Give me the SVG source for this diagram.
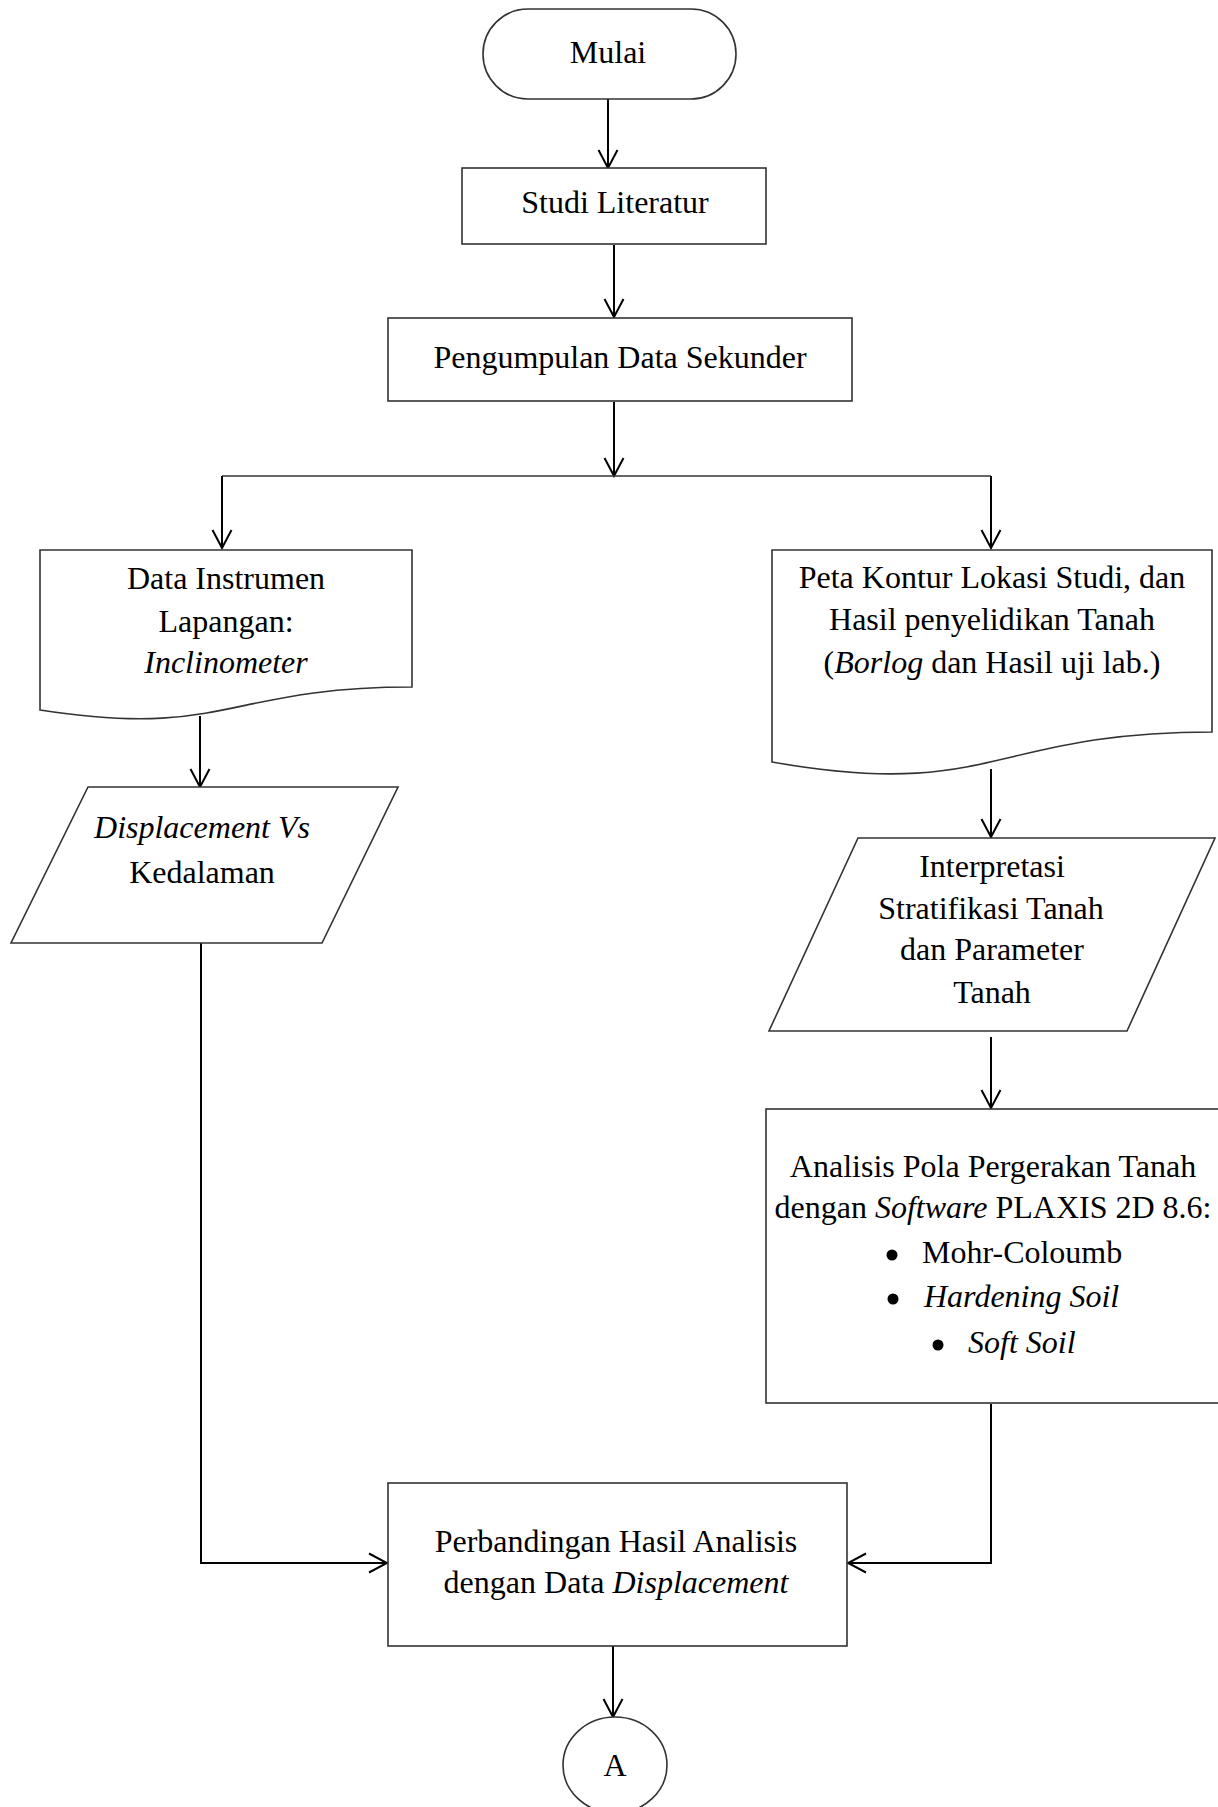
<svg xmlns="http://www.w3.org/2000/svg" width="1218" height="1807" viewBox="0 0 1218 1807">
<style>
.shape{fill:#fff;stroke:#333;stroke-width:1.6}
.conn{fill:none;stroke:#000;stroke-width:2}
.bullet{fill:#000}
text{font-family:"Liberation Serif","Times New Roman",serif;font-size:32px;fill:#000;text-anchor:middle}
.it{font-style:italic}
.l{text-anchor:start}
</style>
<defs>
<marker id="arr" viewBox="-22 -12 24 24" refX="0" refY="0" markerWidth="24" markerHeight="24" markerUnits="userSpaceOnUse" orient="auto">
<path d="M-18,-9.5 L0,0 L-18,9.5" fill="none" stroke="#000" stroke-width="2"/>
</marker>
</defs>
<rect width="1218" height="1807" fill="#fff"/>
<g id="connectors">
<path class="conn" d="M608,99 V168" marker-end="url(#arr)"/>
<path class="conn" d="M614,245 V317" marker-end="url(#arr)"/>
<path class="conn" d="M614,402 V476" marker-end="url(#arr)"/>
<path class="conn" d="M222,476 H991" style="stroke-width:1.6;stroke:#333"/>
<path class="conn" d="M222,476 V548" marker-end="url(#arr)"/>
<path class="conn" d="M991,476 V548" marker-end="url(#arr)"/>
<path class="conn" d="M200,716 V787" marker-end="url(#arr)"/>
<path class="conn" d="M991,769 V837" marker-end="url(#arr)"/>
<path class="conn" d="M991,1037 V1108" marker-end="url(#arr)"/>
<path class="conn" d="M201,943 V1563 H387" marker-end="url(#arr)"/>
<path class="conn" d="M991,1404 V1563 H848" marker-end="url(#arr)"/>
<path class="conn" d="M613,1646 V1717" marker-end="url(#arr)"/>
</g>
<g id="mulai">
<rect class="shape" x="483" y="9" width="253" height="90" rx="45" ry="45"/>
<text x="608" y="63">Mulai</text>
</g>
<g id="studi-literatur">
<rect class="shape" x="462" y="168" width="304" height="76"/>
<text x="615" y="213">Studi Literatur</text>
</g>
<g id="pengumpulan-data">
<rect class="shape" x="388" y="318" width="464" height="83"/>
<text x="620" y="368">Pengumpulan Data Sekunder</text>
</g>
<g id="data-instrumen">
<path class="shape" d="M40,550 H412 V687 C226,687 226,739 40,710 Z"/>
<text x="226" y="589">Data Instrumen</text>
<text x="226" y="632">Lapangan:</text>
<text x="226" y="673" class="it">Inclinometer</text>
</g>
<g id="peta-kontur">
<path class="shape" d="M772,550 H1212 V732 C992,732 992,801 772,762 Z"/>
<text x="992" y="588">Peta Kontur Lokasi Studi, dan</text>
<text x="992" y="630">Hasil penyelidikan Tanah</text>
<text x="992" y="673">(<tspan class="it">Borlog</tspan> dan Hasil uji lab.)</text>
</g>
<g id="displacement-vs-kedalaman">
<path class="shape" d="M88,787 H398 L322,943 H11 Z"/>
<text x="202" y="838" class="it">Displacement Vs</text>
<text x="202" y="883">Kedalaman</text>
</g>
<g id="interpretasi">
<path class="shape" d="M858,838 H1215 L1127,1031 H769 Z"/>
<text x="992" y="877">Interpretasi</text>
<text x="991" y="919">Stratifikasi Tanah</text>
<text x="992" y="960">dan Parameter</text>
<text x="992" y="1003">Tanah</text>
</g>
<g id="analisis-pola">
<rect class="shape" x="766" y="1109" width="456" height="294"/>
<text x="993" y="1177">Analisis Pola Pergerakan Tanah</text>
<text x="993" y="1218">dengan <tspan class="it">Software</tspan> PLAXIS 2D 8.6:</text>
<circle class="bullet" cx="892" cy="1255" r="5.5"/>
<text class="l" x="922" y="1263">Mohr-Coloumb</text>
<circle class="bullet" cx="893" cy="1299" r="5.5"/>
<text class="l it" x="924" y="1307">Hardening Soil</text>
<circle class="bullet" cx="938" cy="1345" r="5.5"/>
<text class="l it" x="968" y="1353">Soft Soil</text>
</g>
<g id="perbandingan">
<rect class="shape" x="388" y="1483" width="459" height="163"/>
<text x="616" y="1552">Perbandingan Hasil Analisis</text>
<text x="616" y="1593">dengan Data <tspan class="it">Displacement</tspan></text>
</g>
<g id="konektor-a">
<ellipse class="shape" cx="615" cy="1765" rx="52" ry="48"/>
<text x="615" y="1776">A</text>
</g>
</svg>
